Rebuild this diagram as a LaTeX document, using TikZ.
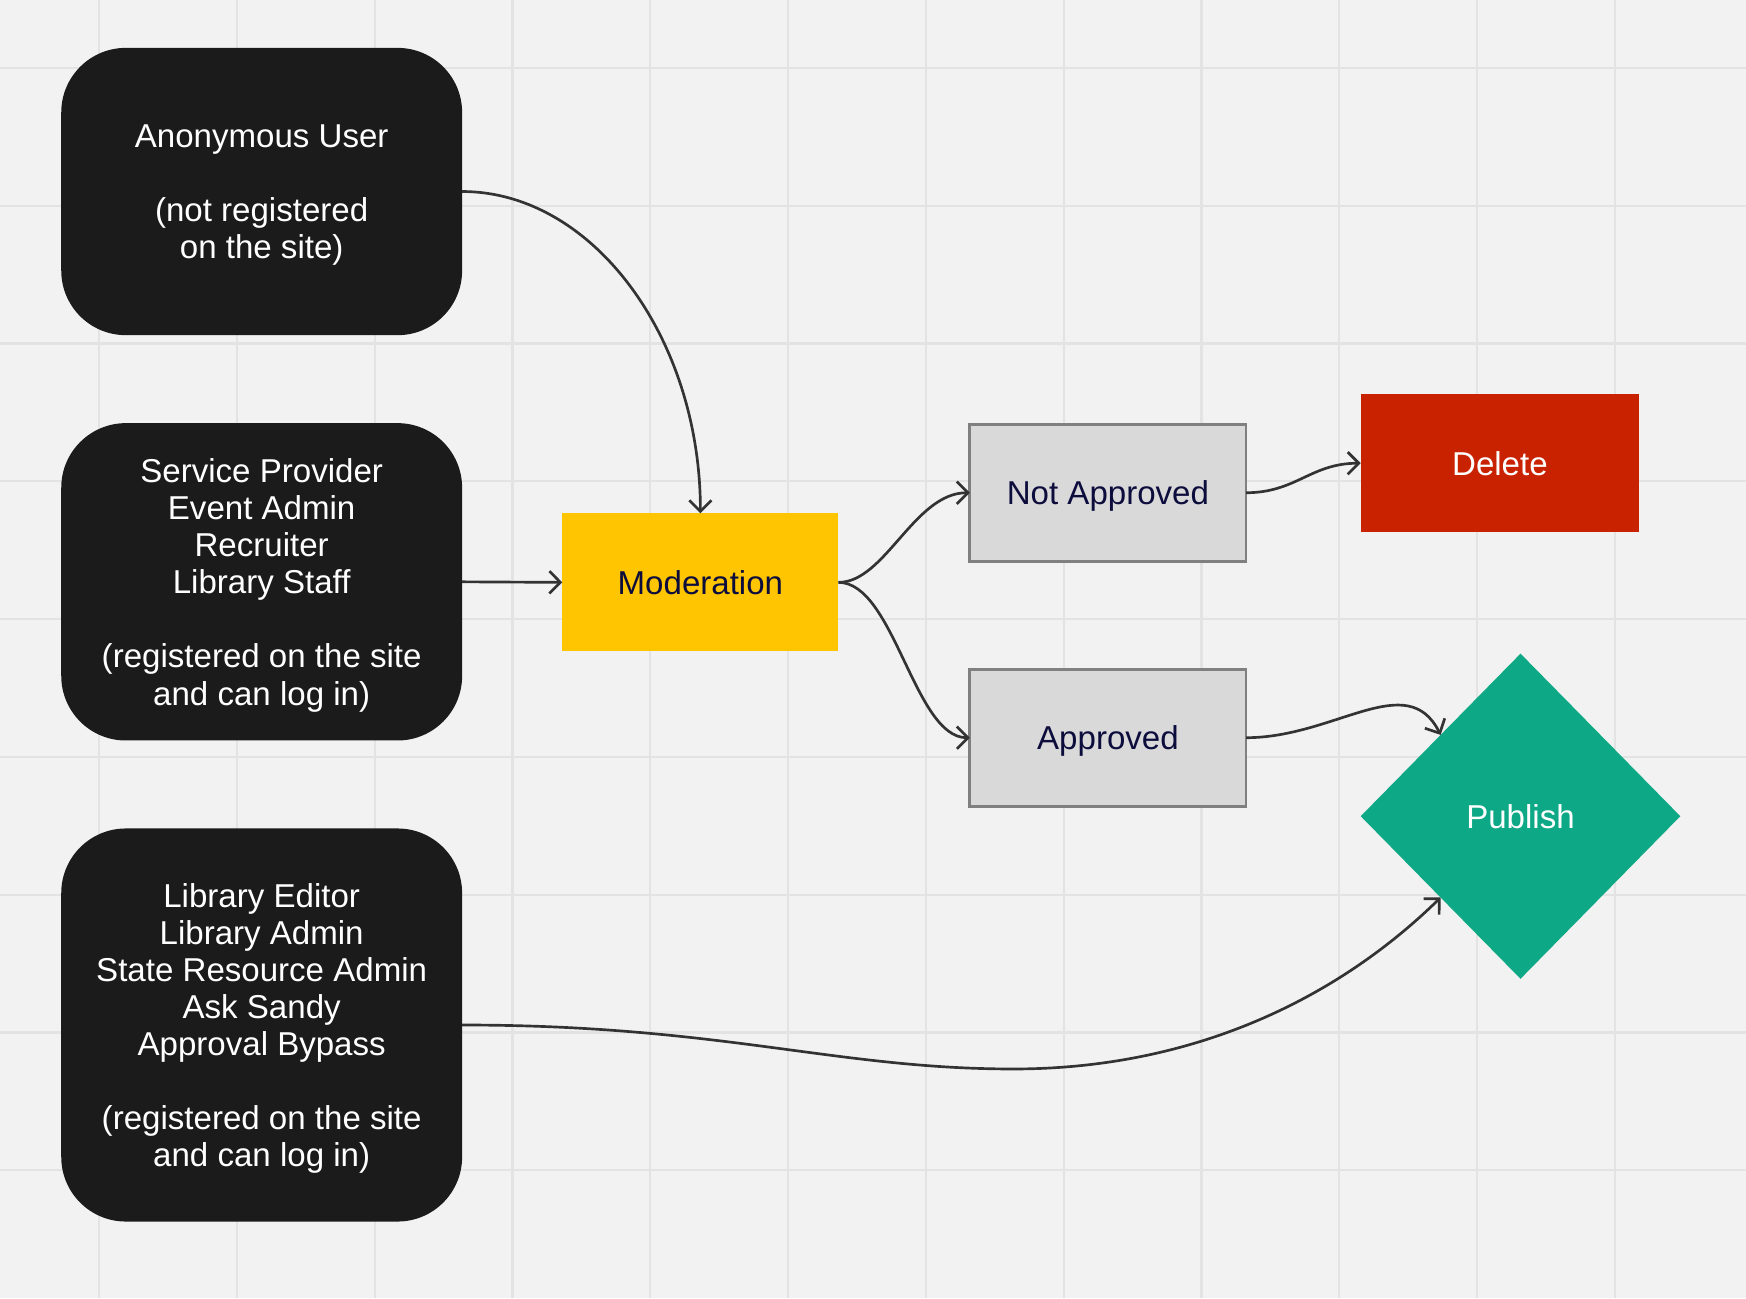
\documentclass[tikz,border=0pt]{standalone}
\usepackage{fontspec}
\setmainfont{Liberation Sans}
\usetikzlibrary{arrows.meta,shapes.geometric}
\definecolor{bg}{HTML}{F2F2F2}
\definecolor{gridc}{HTML}{E3E3E3}
\definecolor{darkbox}{HTML}{1B1B1B}
\definecolor{modyellow}{HTML}{FFC500}
\definecolor{navy}{HTML}{0D0D3D}
\definecolor{greybox}{HTML}{D9D9D9}
\definecolor{greyline}{HTML}{808080}
\definecolor{delred}{HTML}{C92200}
\definecolor{pubteal}{HTML}{0DA886}
\definecolor{edgec}{HTML}{333333}
\begin{document}
\begin{tikzpicture}[x=1pt,y=-1pt,
  every node/.style={font=\fontsize{29.7}{33.3}\selectfont, inner sep=0pt, outer sep=0pt, text depth=0pt},
  gridline/.style={draw=gridc, line width=2pt},
  rolebox/.style={fill=darkbox, rounded corners=58pt, text=white, align=center, minimum width=360pt},
  modbox/.style={fill=modyellow, text=navy, minimum width=248pt, minimum height=124pt},
  statebox/.style={fill=greybox, draw=greyline, line width=2.5pt, text=navy, minimum width=248pt, minimum height=123pt},
  delbox/.style={fill=delred, text=white, minimum width=250pt, minimum height=124pt},
  pubshape/.style={diamond, fill=pubteal, text=white, minimum width=287pt, minimum height=292pt},
  conn/.style={draw=edgec, line width=2.4pt, -{Straight Barb[length=10pt,width=20pt,line width=2.4pt]}}
]
\useasboundingbox (0,0) rectangle (1568,1166);
\fill[bg] (0,0) rectangle (1568,1166);
\foreach \gx in {0,...,11} \draw[gridline] ({89+123.75*\gx},0) -- ({89+123.75*\gx},1166);
\foreach \gy in {0,...,8} \draw[gridline] (0,{61+123.75*\gy}) -- (1568,{61+123.75*\gy});

\node[rolebox, minimum height=258pt] (anon) at (235,172) {Anonymous User\\[33.3pt](not registered\\on the site)};
\node[rolebox, minimum height=285pt] (sp) at (235,522.5) {Service Provider\\Event Admin\\Recruiter\\Library Staff\\[33.3pt](registered on the site\\and can log in)};
\node[rolebox, minimum height=353pt] (le) at (235,920.5) {Library Editor\\Library Admin\\State Resource Admin\\Ask Sandy\\Approval Bypass\\[33.3pt](registered on the site\\and can log in)};

\node[modbox] (mod) at (629,523) {Moderation};
\node[statebox] (na) at (995,442.5) {Not Approved};
\node[statebox] (ap) at (995,662.5) {Approved};
\node[delbox] (del) at (1347,416) {Delete};
\node[pubshape] (pub) at (1365.5,733) {Publish};

\coordinate (dip) at (910,960);

\draw[conn] (anon.east) .. controls +(117,0) and +(0,-158) .. (mod.north);
\draw[conn] (sp.east) -- (mod.west);
\draw[conn] (mod.east) .. controls +(42,0) and +(-50,0) .. (na.west);
\draw[conn] (mod.east) .. controls +(50,0) and +(-50,0) .. (ap.west);
\draw[conn] (na.east) .. controls +(45,0) and +(-45,0) .. (del.west);
\draw[conn] (ap.east) .. controls +(80,0) and +(-30,-60) .. (pub.north west);
\draw[conn] (le.east) .. controls +(233,0) and +(-160,0) .. (dip) .. controls +(160,0) and +(-94,92) .. (pub.south west);
\end{tikzpicture}
\end{document}
